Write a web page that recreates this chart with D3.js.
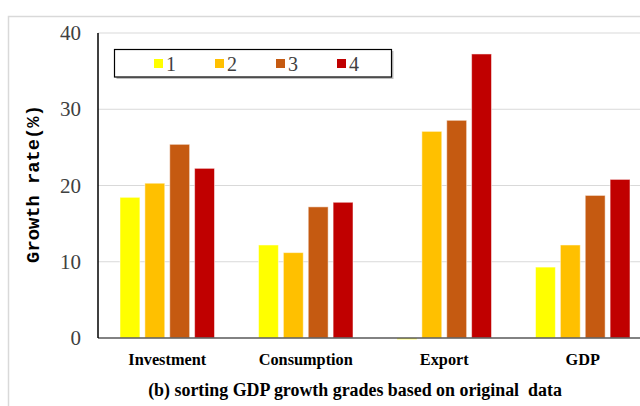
<!DOCTYPE html>
<html><head><meta charset="utf-8">
<script src="https://cdn.jsdelivr.net/npm/d3@7"></script>
<style>
body{margin:0;background:#fff}svg{display:block}
.serif{font-family:"Liberation Serif","Times New Roman","DejaVu Serif",serif}
.mono{font-family:"Liberation Mono","Courier New","DejaVu Sans Mono",monospace}
</style>
</head><body>
<svg id="c" width="640" height="406"></svg>
<script>
const categories = ["Investment", "Consumption", "Export", "GDP"];
const seriesNames = ["1", "2", "3", "4"];
const grade1 = [18.45, 12.2, -0.2, 9.3];
const grade2 = [20.3, 11.2, 27.1, 12.2];
const grade3 = [25.4, 17.2, 28.55, 18.7];
const grade4 = [22.25, 17.8, 37.25, 20.8];
const yTicks = [0, 10, 20, 30, 40];
const colors = ["#FFFF00", "#FFC000", "#C55A11", "#C00000"];
const yTitle = "Growth rate(%)";
const caption = "(b) sorting GDP growth grades based on original\u00a0 data";

const series = [grade1, grade2, grade3, grade4];
const svg = d3.select("#c");

// outer frame
svg.append("path").attr("d", "M8.5,406 V16.5 H640").attr("fill", "none")
  .attr("stroke", "#d9d9d9").attr("stroke-width", 1.5);

const x = d3.scaleBand().domain(categories).range([98, 652]).paddingInner(0).paddingOuter(0);
const x1 = d3.scaleBand().domain(seriesNames).range([22, 138.5 - 22]).paddingInner(0.2).paddingOuter(0);
const y = d3.scaleLinear().domain([0, 40]).range([338, 33]);

// gridlines
svg.append("g").selectAll("line").data(yTicks.slice(1)).join("line")
  .attr("x1", 98).attr("x2", 640).attr("y1", d => y(d)).attr("y2", d => y(d))
  .attr("stroke", "#d9d9d9").attr("stroke-width", 1.2);

// bars
const g = svg.append("g");
categories.forEach((c, ci) => {
  series.forEach((s, si) => {
    const v = s[ci];
    g.append("rect")
      .attr("x", x(c) + x1(seriesNames[si]))
      .attr("y", y(Math.max(0, v)))
      .attr("width", x1.bandwidth())
      .attr("height", Math.abs(y(v) - y(0)))
      .attr("fill", colors[si])
      .attr("stroke", "#fff").attr("stroke-opacity", 0.5).attr("stroke-width", 1);
  });
});

// axes lines
svg.append("line").attr("x1", 98).attr("x2", 640).attr("y1", y(0)).attr("y2", y(0))
  .attr("stroke", "#595959").attr("stroke-width", 1.5);
svg.append("line").attr("x1", 98).attr("x2", 98).attr("y1", y(40)).attr("y2", y(0))
  .attr("stroke", "#000").attr("stroke-width", 1.5);

// y tick labels
svg.append("g").selectAll("text").data(yTicks).join("text")
  .attr("class", "serif")
  .attr("x", 81).attr("y", d => y(d) + 7)
  .attr("text-anchor", "end")
  .attr("font-size", 21)
  .attr("fill", "#404040").text(d => d);

// x category labels
svg.append("g").selectAll("text").data(categories).join("text")
  .attr("class", "serif")
  .attr("x", d => x(d) + x.bandwidth() / 2).attr("y", 365)
  .attr("text-anchor", "middle")
  .attr("font-weight", "bold").attr("font-size", 16.3)
  .attr("fill", "#000").text(d => d);

// y title
svg.append("text").attr("class", "mono").attr("transform", "translate(39,184) rotate(-90)")
  .attr("text-anchor", "middle")
  .attr("font-weight", "bold").attr("font-size", 18.8)
  .attr("fill", "#000").text(yTitle);

// caption
svg.append("text").attr("class", "serif").attr("x", 355).attr("y", 396).attr("text-anchor", "middle")
  .attr("font-weight", "bold").attr("font-size", 17.9)
  .attr("fill", "#000").text(caption);

// legend
const lg = svg.append("g");
lg.append("rect").attr("x", 116.5).attr("y", 51).attr("width", 277).attr("height", 28)
  .attr("fill", "#bfbfbf");
lg.append("rect").attr("x", 114.5).attr("y", 49.5).attr("width", 277).attr("height", 27.5)
  .attr("fill", "#fff").attr("stroke", "#000").attr("stroke-width", 1.2);
const li = lg.selectAll("g.item").data(seriesNames).join("g").attr("class", "item")
  .attr("transform", (d, i) => `translate(${154 + i * 61},0)`);
li.append("rect").attr("x", 0).attr("y", 59).attr("width", 9).attr("height", 9)
  .attr("fill", (d, i) => colors[i]);
li.append("text").attr("class", "serif").attr("x", 12).attr("y", 71)
  .attr("font-size", 20).attr("fill", "#404040").text(d => d);
</script>
</body></html>
